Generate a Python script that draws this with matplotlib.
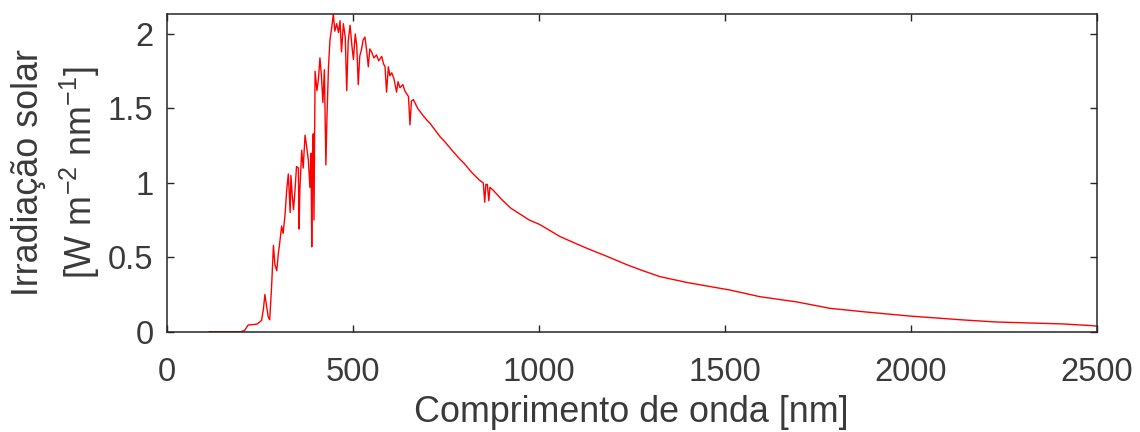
import matplotlib
matplotlib.use("Agg")
import matplotlib.pyplot as plt

plt.rcParams['font.family'] = ['Liberation Sans', 'DejaVu Sans']
plt.rcParams['mathtext.fontset'] = 'custom'
plt.rcParams['mathtext.rm'] = 'Liberation Sans'
plt.rcParams['mathtext.it'] = 'Liberation Sans'

wavelength_nm = [
    115, 200, 210, 219, 242, 255, 260, 264, 268, 273, 277, 282, 287, 291, 296,
    300, 305, 309, 313, 318, 323, 327, 332, 334, 338, 341, 345, 349, 354, 356,
    358, 363, 367, 372, 376, 381, 385, 388, 390, 392, 394, 396, 399, 404, 408,
    412, 416, 420, 424, 428, 431, 435, 439, 444, 448, 452, 457, 462, 466, 470,
    475, 480, 484, 488, 493, 498, 502, 507, 511, 515, 519, 524, 528, 533, 538,
    542, 546, 551, 557, 564, 570, 578, 583, 587, 591, 596, 600, 605, 611, 618,
    622, 627, 635, 640, 645, 650, 654, 658, 663, 675, 690, 700, 708, 720, 735,
    750, 770, 788, 800, 820, 840, 851, 855, 858, 862, 866, 869, 878, 900, 925,
    950, 975, 1003, 1030, 1057, 1093, 1130, 1180, 1237, 1280, 1326, 1400, 1514,
    1595, 1694, 1783, 1873, 1998, 2141, 2231, 2410, 2491, 2500,
]
irradiance = [
    0.0, 0.0, 0.01, 0.045, 0.05, 0.075, 0.15, 0.25, 0.18, 0.10, 0.08, 0.30, 0.58, 0.45, 0.41,
    0.52, 0.62, 0.71, 0.66, 0.78, 0.96, 1.06, 0.80, 1.05, 0.90, 0.82, 0.95, 1.11, 1.10, 0.69,
    0.95, 1.22, 1.10, 1.32, 1.25, 1.15, 0.97, 1.20, 0.57, 1.10, 1.33, 0.75, 1.75, 1.62, 1.70,
    1.84, 1.72, 1.54, 1.76, 1.12, 1.45, 1.78, 1.96, 2.05, 2.135, 2.02, 2.07, 2.01, 2.09, 1.88,
    2.07, 1.98, 1.62, 1.95, 2.06, 1.92, 1.83, 2.00, 1.92, 1.66, 1.85, 1.90, 1.96, 1.98, 1.88,
    1.78, 1.90, 1.88, 1.84, 1.86, 1.82, 1.85, 1.80, 1.78, 1.61, 1.78, 1.72, 1.74, 1.70, 1.61,
    1.68, 1.64, 1.66, 1.62, 1.60, 1.58, 1.39, 1.55, 1.56, 1.50, 1.45, 1.42, 1.40, 1.36, 1.31,
    1.27, 1.21, 1.16, 1.13, 1.07, 1.02, 1.00, 0.87, 0.99, 0.99, 0.88, 0.97, 0.95, 0.89, 0.83,
    0.79, 0.75, 0.72, 0.68, 0.64, 0.60, 0.56, 0.51, 0.45, 0.41, 0.37, 0.33, 0.28,
    0.235, 0.20, 0.157, 0.134, 0.105, 0.079, 0.065, 0.052, 0.040, 0.037,
]

x_ticks = [0, 500, 1000, 1500, 2000, 2500]
y_ticks = [0, 0.5, 1, 1.5, 2]
y_tick_labels = ['0', '0.5', '1', '1.5', '2']

fig = plt.figure(figsize=(11.4, 4.32), dpi=100)
ax = fig.add_axes([0.1462, 0.2322, 0.8158, 0.7354])
ax.plot(wavelength_nm, irradiance, color='#ff0000', linewidth=1.0)

ax.set_xlim(0, 2500)
ax.set_ylim(0, 2.135)
ax.set_xticks(x_ticks)
ax.set_xticklabels([str(t) for t in x_ticks])
ax.set_yticks(y_ticks)
ax.set_yticklabels(y_tick_labels)

axis_color = '#262626'
text_color = '#3a3a3a'
fs = 23.5
fs_label = 25.8
for s in ax.spines.values():
    s.set_color(axis_color)
    s.set_linewidth(1.1)
ax.tick_params(direction='in', length=5, width=1.0, color=axis_color,
               labelcolor=text_color, labelsize=fs, top=True, right=True)
ax.tick_params(axis='x', pad=18)
ax.tick_params(axis='y', pad=9.5)

ax.set_xlabel('Comprimento de onda [nm]', fontsize=fs_label, color=text_color, labelpad=5)
ax.set_ylabel('Irradiação solar\n[W m$^{-2}$ nm$^{-1}$]', fontsize=fs_label,
              color=text_color, labelpad=4, linespacing=1.35)

fig.savefig('out.png', dpi=100, facecolor='white')
